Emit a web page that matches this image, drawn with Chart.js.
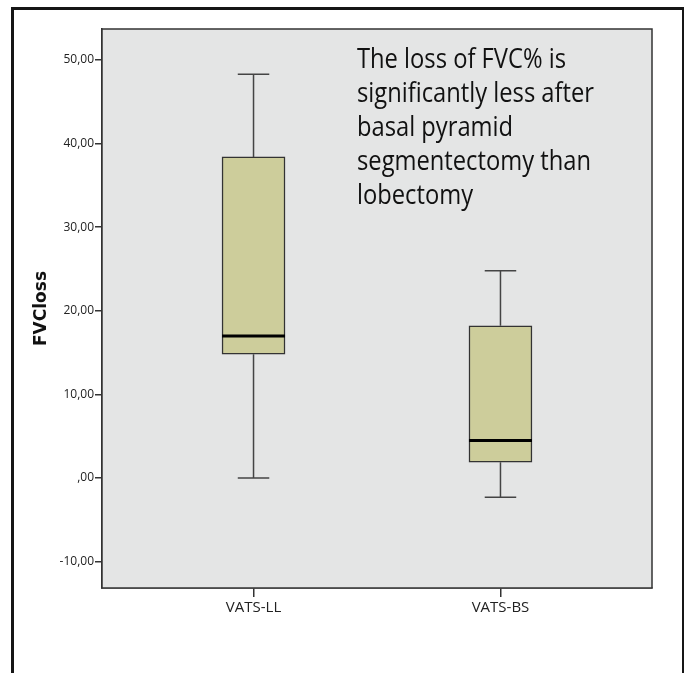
<!DOCTYPE html>
<html>
<head>
<meta charset="utf-8">
<script src="https://cdn.jsdelivr.net/npm/chart.js@4"></script>
<style>
  body { margin: 0; background: #fff; overflow: hidden; }
  #wrap { position: relative; width: 684px; height: 673px; }
  #frame { position: absolute; left: 11px; top: 7px; width: 668px; height: 700px; border: 3px solid #161616; border-bottom: none; }
  canvas { position: absolute; left: 0; top: 0; }
</style>
</head>
<body>
<div id="wrap">
  <div id="frame"></div>
  <canvas id="boxChart" width="684" height="673"></canvas>
</div>
<script>
const categories = ["VATS-LL", "VATS-BS"];
const whiskerLow = [0, -2.3];
const q1 = [14.8, 1.9];
const median = [17.0, 4.5];
const q3 = [38.4, 18.2];
const whiskerHigh = [48.3, 24.8];
const yTicks = [-10, 0, 10, 20, 30, 40, 50];
const noteLines = [
    "The loss of FVC% is",
    "significantly less after",
    "basal pyramid",
    "segmentectomy than",
    "lobectomy"
];

const tickFont = { family: "'Open Sans', sans-serif", size: 12 };

// gray plot panel with a frame round it
const panel = {
    id: "panel",
    beforeDatasetsDraw(chart) {
        const a = chart.chartArea, ctx = chart.ctx;
        ctx.save();
        ctx.fillStyle = "#e4e5e5";
        ctx.fillRect(a.left, a.top, a.right - a.left, a.bottom - a.top);
        ctx.restore();
    },
    afterDraw(chart) {
        const a = chart.chartArea, ctx = chart.ctx;
        ctx.save();
        ctx.strokeStyle = "#333";
        ctx.lineWidth = 1.5;
        ctx.strokeRect(a.left, a.top, a.right - a.left, a.bottom - a.top);
        ctx.restore();
    }
};

// whiskers, caps and median lines from the same scales as the boxes
const whiskers = {
    id: "whiskers",
    afterDatasetsDraw(chart) {
        const ctx = chart.ctx;
        const xs = chart.scales.x, ys = chart.scales.y;
        const bars = chart.getDatasetMeta(0).data;
        ctx.save();
        categories.forEach((c, i) => {
            const x = xs.getPixelForValue(i);
            const half = bars[i].width / 2;
            const cap = half / 2;
            ctx.strokeStyle = "#444";
            ctx.lineWidth = 1.5;
            ctx.beginPath();
            ctx.moveTo(x, ys.getPixelForValue(q3[i]));
            ctx.lineTo(x, ys.getPixelForValue(whiskerHigh[i]));
            ctx.moveTo(x - cap, ys.getPixelForValue(whiskerHigh[i]));
            ctx.lineTo(x + cap, ys.getPixelForValue(whiskerHigh[i]));
            ctx.moveTo(x, ys.getPixelForValue(q1[i]));
            ctx.lineTo(x, ys.getPixelForValue(whiskerLow[i]));
            ctx.moveTo(x - cap, ys.getPixelForValue(whiskerLow[i]));
            ctx.lineTo(x + cap, ys.getPixelForValue(whiskerLow[i]));
            ctx.stroke();

            ctx.strokeStyle = "#000";
            ctx.lineWidth = 3;
            ctx.beginPath();
            ctx.moveTo(x - half, ys.getPixelForValue(median[i]));
            ctx.lineTo(x + half, ys.getPixelForValue(median[i]));
            ctx.stroke();
        });
        ctx.restore();
    }
};

// the note in the upper right of the panel
const note = {
    id: "note",
    afterDraw(chart) {
        const ctx = chart.ctx;
        ctx.save();
        ctx.font = "28px 'Open Sans', sans-serif";
        ctx.fillStyle = "#111";
        ctx.textBaseline = "middle";
        const squeeze = 237 / ctx.measureText(noteLines[1]).width;
        noteLines.forEach((line, i) => {
            ctx.save();
            ctx.translate(357, 60 + i * 34);
            ctx.scale(squeeze, 1);
            ctx.fillText(line, 0, 0);
            ctx.restore();
        });
        ctx.restore();
    }
};

let ctx = document.getElementById("boxChart").getContext("2d");
let boxChart = new Chart(ctx, {
    type: "bar",
    data: {
        datasets: [
            {
                data: categories.map((c, i) => ({ x: i, y: [q1[i], q3[i]] })),
                backgroundColor: "#cdcd9b",
                borderColor: "#333",
                borderWidth: 1.5,
                borderSkipped: false,
                barThickness: 63,
            },
        ],
    },
    options: {
        responsive: false,
        animation: false,
        layout: { padding: { top: 29, right: 32, bottom: 0, left: 0 } },
        plugins: {
            legend: { display: false },
            tooltip: { enabled: false },
        },
        scales: {
            x: {
                type: "linear",
                offset: false,
                min: -0.6136,
                max: 1.6136,
                afterBuildTicks: s => { s.ticks = categories.map((c, i) => ({ value: i })); },
                afterFit: s => { s.height = 85; },
                ticks: {
                    callback: v => categories[v],
                    font: { family: "'Open Sans', sans-serif", size: 15 },
                    color: "#222",
                    padding: 2,
                    maxRotation: 0,
                },
                grid: { offset: false, drawOnChartArea: false, tickLength: 9, color: "#333", lineWidth: 1.5 },
                border: { display: true, color: "#333", width: 1.5 },
            },
            y: {
                min: -13.15,
                max: 53.7,
                afterBuildTicks: s => { s.ticks = yTicks.map(v => ({ value: v })); },
                afterFit: s => { s.width = 102; },
                ticks: {
                    callback: v => v === 0 ? ",00" : v.toFixed(2).replace(".", ","),
                    font: tickFont,
                    color: "#222",
                    padding: 1,
                },
                grid: { drawOnChartArea: false, tickLength: 7, color: "#333", lineWidth: 1.5 },
                border: { display: true, color: "#333", width: 1.5 },
                title: {
                    display: true,
                    text: "FVCloss",
                    font: { family: "'DejaVu Sans', sans-serif", size: 17, weight: "bold" },
                    color: "#111",
                    padding: { top: 31, bottom: 0 },
                },
            },
        },
    },
    plugins: [panel, whiskers, note],
});
</script>
</body>
</html>
